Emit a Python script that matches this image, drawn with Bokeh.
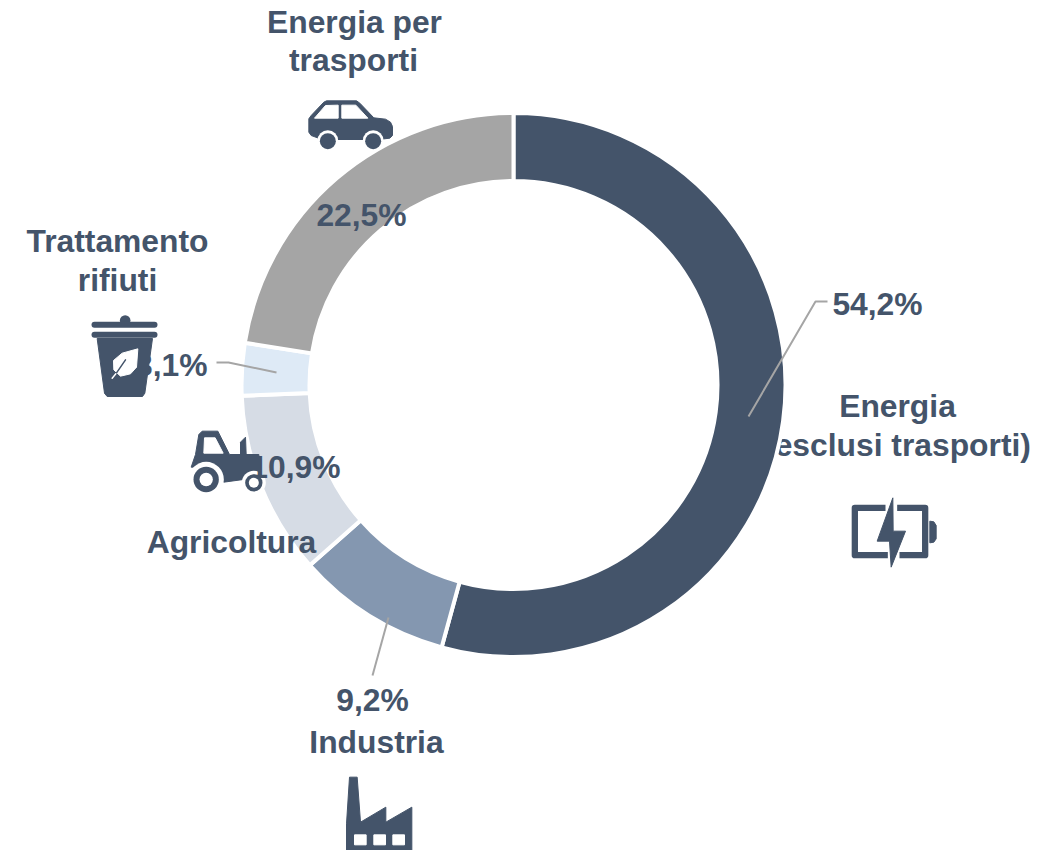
import math
from bokeh.plotting import figure, ColumnDataSource
from bokeh.core.properties import value
from bokeh.embed import file_html
from bokeh.resources import INLINE

categories = ["Energia (esclusi trasporti)", "Industria", "Agricoltura", "Trattamento rifiuti", "Energia per trasporti"]
shares = [54.2, 9.2, 10.9, 3.1, 22.5]
share_labels = ["54,2%", "9,2%", "10,9%", "3,1%", "22,5%"]
colors = ["#44546A", "#8497B0", "#D6DCE5", "#DEEAF6", "#A5A5A5"]

INK = "#44546A"
GUIDE = "#A5A5A5"
FONT = value("Liberation Sans")
FS = "31.8px"
W, H = 1061, 850
CX, CY, R_OUT, R_IN = 513, 384.5, 272, 204
TEXT_SHIFT = 12


def Y(py):
    return 850 - py


p = figure(width=W, height=H, x_range=(0, W), y_range=(0, H),
           output_backend="svg", toolbar_location=None, min_border=0,
           background_fill_color="white", border_fill_color="white", outline_line_color=None)
p.axis.visible = False
p.grid.visible = False


def say(s, x, y, align="center"):
    p.text([x], [Y(y - TEXT_SHIFT)], text=[s], text_font=FONT, text_font_size=FS, text_font_style="bold",
           text_color=INK, text_align=align, text_baseline="alphabetic")


# category labels under the ring
say("Energia", 897, 417)
say("(esclusi trasporti)", 897, 456)

# ring
total = sum(shares)
starts, ends, c = [], [], 0.0
for v in shares:
    starts.append(math.pi / 2 - c / total * 2 * math.pi)
    c += v
    ends.append(math.pi / 2 - c / total * 2 * math.pi)
src = ColumnDataSource(dict(start=starts, end=ends, color=colors, cat=categories, share=shares))
p.annular_wedge(x=CX, y=Y(CY), inner_radius=R_IN, outer_radius=R_OUT, start_angle="start", end_angle="end",
                direction="clock", fill_color="color", line_color="white", line_width=4, source=src)

# leader lines
for xs, ys in [([748, 815, 827], [416, 301, 301]),
               ([388, 372], [617, 675]),
               ([276, 228, 216], [372, 362, 362])]:
    p.line(xs, [Y(v) for v in ys], line_color=GUIDE, line_width=2)

# other labels
say("Energia per", 354, 33)
say("trasporti", 353, 71)
say("Trattamento", 117, 252)
say("rifiuti", 117, 291)
say("Agricoltura", 231, 553)
say("Industria", 376, 753)
say(share_labels[0], 877, 315)
say(share_labels[1], 372, 711)
say(share_labels[3], 207, 376, "right")
say(share_labels[4], 361, 226)


def poly(pts, ox, oy, color=INK):
    p.patch([ox + a / 3 for a, b in pts], [Y(oy + b / 3) for a, b in pts], fill_color=color,
            line_color=color, line_width=1, line_join="round")


def stroke(pts, ox, oy, w, color=INK, cap="round"):
    p.line([ox + a / 3 for a, b in pts], [Y(oy + b / 3) for a, b in pts], line_color=color,
           line_width=w, line_cap=cap, line_join="round")


def disc(a, b, r, ox, oy, color=INK):
    p.circle([ox + a / 3], [Y(oy + b / 3)], radius=r / 3, fill_color=color, line_color=None)


# car icon
ox, oy = 290, 90
poly([(55, 85), (62, 75), (100, 35), (108, 31), (198, 31), (208, 38), (250, 82), (285, 86), (300, 95), (306, 108),
      (306, 135), (298, 143), (265, 147), (95, 147), (62, 135), (55, 125)], ox, oy)
poly([(72, 83), (105, 45), (143, 44), (143, 83)], ox, oy, "white")
poly([(154, 44), (196, 44), (232, 83), (154, 83)], ox, oy, "white")
disc(112, 150, 31, ox, oy, "white")
disc(248, 150, 31, ox, oy, "white")
disc(112, 152, 24, ox, oy)
disc(248, 152, 24, ox, oy)

# trash icon
ox, oy = 80, 310
disc(134, 30, 16, ox, oy)
stroke([(42, 43), (222, 43)], ox, oy, 6)
stroke([(42, 73), (222, 73)], ox, oy, 6)
poly([(50, 84), (216, 84), (193, 248), (186, 258), (80, 258), (72, 248)], ox, oy)
poly([(172, 115), (168, 170), (150, 190), (120, 197), (100, 178), (99, 150), (125, 128)], ox, oy, "white")
stroke([(135, 148), (106, 190)], ox, oy, 1.5)
stroke([(106, 190), (95, 203)], ox, oy, 1.5, "white")

# tractor icon
ox, oy = 80, 310
poly([(345, 432), (355, 372), (365, 362), (412, 362), (447, 432), (535, 432), (540, 500), (430, 515), (345, 470), (332, 470)], ox, oy)
poly([(372, 382), (404, 382), (428, 428), (370, 428)], ox, oy, "white")
poly([(480, 432), (480, 395), (495, 380), (497, 432)], ox, oy)
disc(377, 507, 53, ox, oy, "white")
disc(520, 517, 36, ox, oy, "white")
say(share_labels[2], 340, 478, "right")
disc(377, 507, 38, ox, oy)
disc(377, 507, 20, ox, oy, "white")
disc(520, 517, 26, ox, oy)
disc(520, 517, 15, ox, oy, "white")

# battery icon
ox, oy = 830, 490
stroke([(165, 52), (73, 52), (73, 194), (172, 194)], ox, oy, 6.3, cap="butt")
stroke([(200, 52), (284, 52), (284, 194), (207, 194)], ox, oy, 6.3, cap="butt")
poly([(298, 92), (310, 94), (317, 105), (317, 145), (310, 155), (298, 157)], ox, oy)
poly([(187, 22), (140, 152), (177, 152), (182, 230), (225, 122), (188, 122)], ox, oy)

# factory icon
ox, oy = 330, 765
poly([(48, 256), (48, 175), (57, 35), (80, 35), (90, 170), (166, 125), (166, 170), (244, 125), (244, 256)], ox, oy)
for a in (72, 130, 187):
    poly([(a, 208), (a + 35, 208), (a + 35, 238), (a, 238)], ox, oy, "white")

open("out.html", "w").write(file_html(p, INLINE))
